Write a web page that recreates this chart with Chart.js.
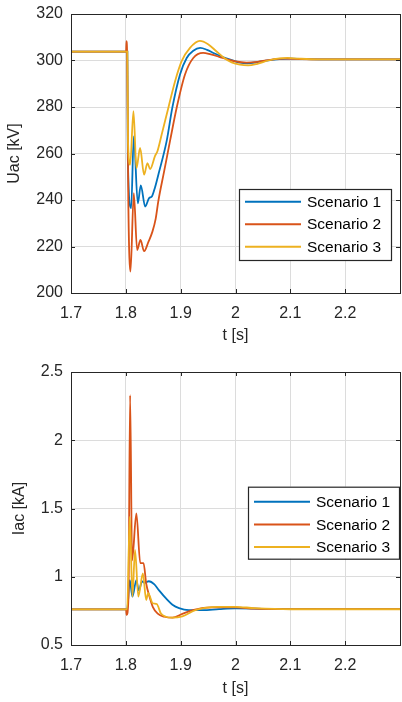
<!DOCTYPE html>
<html>
<head>
<meta charset="utf-8">
<script src="https://cdn.jsdelivr.net/npm/chart.js@4.4.1/dist/chart.umd.min.js"></script>
<style>
    body { margin: 0; background: #fff; }
    .plot { display: block; }
</style>
</head>
<body>
<canvas id="uacChart" class="plot" width="402" height="350"></canvas>
<canvas id="iacChart" class="plot" width="402" height="352"></canvas>
<script>
// --- data ---
const seriesNames = ['Scenario 1', 'Scenario 2', 'Scenario 3'];
const seriesColors = ['#0072BD', '#D95319', '#EDB120'];
const xTicks = [1.7, 1.8, 1.9, 2, 2.1, 2.2, 2.3];

// Uac [kV]
const tU1 = [1.7, 1.8028, 1.8036, 1.8097, 1.8145, 1.8218, 1.8273, 1.8352, 1.8424, 1.8475, 1.8533, 1.8594, 1.8745, 1.8848, 1.8988, 1.911, 1.923, 1.9355, 1.948, 1.962, 1.978, 1.993, 2.008, 2.022, 2.04, 2.06, 2.08, 2.1, 2.13, 2.17, 2.3];
const U1 = [303.8, 303.8, 258, 236.5, 267.4, 238.6, 246.3, 237.2, 240.8, 241.5, 245.5, 251, 265.4, 279.7, 294, 301.1, 304.2, 305.4, 304.6, 303, 301.4, 300.2, 299.1, 298.8, 299.3, 300.1, 300.6, 300.8, 300.6, 300.5, 300.5];
const tU2 = [1.7, 1.8005, 1.8012, 1.8025, 1.8045, 1.8085, 1.8145, 1.8206, 1.8267, 1.8333, 1.8412, 1.8485, 1.8545, 1.8594, 1.87, 1.8806, 1.8927, 1.9079, 1.923, 1.941, 1.955, 1.97, 1.985, 2.0, 2.02, 2.04, 2.06, 2.09, 2.12, 2.16, 2.3];
const U2 = [303.8, 303.8, 308.3, 300, 240, 209.2, 243, 218.5, 222.8, 218, 222, 226.4, 232, 239.7, 252.5, 265.4, 279.7, 294, 301.1, 303.3, 302.6, 301.6, 300.5, 299.6, 299.1, 299.4, 300.2, 300.8, 300.6, 300.5, 300.5];
const tU3 = [1.7, 1.8028, 1.804, 1.8079, 1.8139, 1.8194, 1.826, 1.8333, 1.8394, 1.8442, 1.8533, 1.8576, 1.8655, 1.8776, 1.8897, 1.9018, 1.917, 1.935, 1.95, 1.965, 1.98, 1.993, 2.008, 2.023, 2.04, 2.06, 2.08, 2.095, 2.115, 2.15, 2.3];
const U3 = [303.8, 303.8, 265, 255.2, 278.2, 253.7, 262.4, 250.9, 255.9, 253.3, 259, 261, 268.3, 279.7, 291, 299.7, 305.4, 308.4, 307, 304, 301, 299.2, 298.2, 297.9, 298.6, 300, 300.9, 301.1, 300.8, 300.5, 300.5];
const uTicks = [200, 220, 240, 260, 280, 300, 320];

// Iac [kA]
const tI1 = [1.7, 1.8024, 1.8072, 1.812, 1.8192, 1.8234, 1.8299, 1.8341, 1.8419, 1.8521, 1.8606, 1.8758, 1.885, 1.897, 1.915, 1.94, 1.97, 2.0, 2.06, 2.3];
const I1 = [0.761, 0.761, 0.976, 0.854, 0.976, 0.90, 0.966, 0.955, 0.967, 0.944, 0.90, 0.83, 0.795, 0.77, 0.756, 0.756, 0.763, 0.768, 0.765, 0.763];
const tI2 = [1.7, 1.8005, 1.8014, 1.8048, 1.8078, 1.8114, 1.8192, 1.8263, 1.8323, 1.8371, 1.8431, 1.8491, 1.8581, 1.8701, 1.885, 1.903, 1.924, 1.957, 1.999, 2.035, 2.1, 2.3];
const I2 = [0.761, 0.761, 0.72, 0.85, 2.33, 1.12, 1.465, 1.10, 1.10, 0.952, 0.855, 0.78, 0.73, 0.707, 0.70, 0.728, 0.758, 0.775, 0.775, 0.766, 0.763, 0.763];
const tI3 = [1.7, 1.8024, 1.8072, 1.812, 1.8168, 1.8228, 1.8311, 1.8371, 1.8407, 1.8491, 1.8563, 1.8641, 1.8731, 1.885, 1.903, 1.927, 1.969, 1.999, 2.035, 2.1, 2.3];
const I3 = [0.761, 0.761, 1.44, 0.854, 1.196, 0.854, 1.025, 0.83, 0.88, 0.806, 0.80, 0.73, 0.707, 0.70, 0.71, 0.756, 0.78, 0.78, 0.77, 0.762, 0.762];
const iTicks = [0.5, 1, 1.5, 2, 2.5];

const FONT = "'Liberation Sans', Arial, Helvetica, sans-serif";
const AXIS_COLOR = '#262626';

function pts(ts, vs) {
    return ts.map((t, i) => ({ x: t, y: vs[i] }));
}

function fmt(v) {
    return String(Number(v.toFixed(3)));
}

// box around the axes with inward ticks on all four sides (MATLAB style)
const frameBox = {
    id: 'frameBox',
    afterDatasetsDraw(chart) {
        const { ctx, chartArea: a, scales } = chart;
        const len = 4;
        ctx.save();
        ctx.strokeStyle = AXIS_COLOR;
        ctx.lineWidth = 1;
        ctx.beginPath();
        scales.x.ticks.forEach(tk => {
            const px = Math.round(scales.x.getPixelForValue(tk.value)) + 0.5;
            ctx.moveTo(px, a.bottom); ctx.lineTo(px, a.bottom - len);
            ctx.moveTo(px, a.top); ctx.lineTo(px, a.top + len);
        });
        scales.y.ticks.forEach(tk => {
            const py = Math.round(scales.y.getPixelForValue(tk.value)) + 0.5;
            ctx.moveTo(a.left, py); ctx.lineTo(a.left + len, py);
            ctx.moveTo(a.right, py); ctx.lineTo(a.right - len, py);
        });
        ctx.stroke();
        ctx.strokeRect(Math.round(a.left) + 0.5, Math.round(a.top) + 0.5,
            Math.round(a.right - a.left), Math.round(a.bottom - a.top));
        ctx.restore();
    }
};

// legend box placed inside the axes
const boxLegend = {
    id: 'boxLegend',
    afterDraw(chart, args, opts) {
        const ctx = chart.ctx;
        ctx.save();
        ctx.fillStyle = '#fff';
        ctx.fillRect(opts.left, opts.top, opts.width, opts.height);
        ctx.strokeStyle = AXIS_COLOR;
        ctx.lineWidth = 1.2;
        ctx.strokeRect(opts.left + 0.5, opts.top + 0.5, opts.width, opts.height);
        ctx.font = '15.5px ' + FONT;
        ctx.textBaseline = 'middle';
        seriesNames.forEach((name, i) => {
            const y = opts.firstRow + i * opts.rowGap;
            ctx.strokeStyle = seriesColors[i];
            ctx.lineWidth = 2;
            ctx.beginPath();
            ctx.moveTo(opts.left + 6, y);
            ctx.lineTo(opts.left + 6 + opts.lineLen, y);
            ctx.stroke();
            ctx.fillStyle = '#000';
            ctx.fillText(name, opts.left + 12 + opts.lineLen, y + 1);
        });
        ctx.restore();
    }
};

function noPad(s) {
    s.paddingLeft = 0;
    s.paddingRight = 0;
    s.paddingTop = 0;
    s.paddingBottom = 0;
}

function makeChart(canvasId, series, yMin, yMax, yTicks, yTitle, layout, legendPos) {
    const datasets = series.map((d, i) => ({
        label: seriesNames[i],
        data: d,
        borderColor: seriesColors[i],
        borderWidth: 1.8,
        pointRadius: 0,
        cubicInterpolationMode: 'monotone',
        order: 3 - i
    }));

    return new Chart(document.getElementById(canvasId), {
        type: 'line',
        data: { datasets },
        options: {
            responsive: false,
            animation: false,
            layout: { padding: { left: 0, right: 2, top: layout.top, bottom: 0 } },
            plugins: {
                legend: { display: false },
                tooltip: { enabled: false },
                boxLegend: legendPos
            },
            scales: {
                x: {
                    type: 'linear',
                    min: 1.7,
                    max: 2.3,
                    afterBuildTicks: s => { s.ticks = xTicks.map(v => ({ value: v })); },
                    afterFit: s => { s.height = layout.xHeight; noPad(s); },
                    grid: { color: '#dcdcdc', drawTicks: false },
                    border: { display: false },
                    ticks: {
                        color: AXIS_COLOR,
                        font: { family: FONT, size: 16 },
                        padding: 11,
                        maxRotation: 0,
                        autoSkip: false,
                        callback: v => (Math.abs(v - 2.3) < 1e-6 ? '' : fmt(v))
                    },
                    title: {
                        display: true,
                        text: 't [s]',
                        color: AXIS_COLOR,
                        font: { family: FONT, size: 16 },
                        padding: { top: 0, bottom: layout.xTitlePad }
                    }
                },
                y: {
                    min: yMin,
                    max: yMax,
                    afterBuildTicks: s => { s.ticks = yTicks.map(v => ({ value: v })); },
                    afterFit: s => { s.width = 71; noPad(s); },
                    grid: { color: '#dcdcdc', drawTicks: false },
                    border: { display: false },
                    ticks: {
                        color: AXIS_COLOR,
                        font: { family: FONT, size: 16 },
                        padding: 8,
                        autoSkip: false,
                        callback: v => fmt(v)
                    },
                    title: {
                        display: true,
                        text: yTitle,
                        color: AXIS_COLOR,
                        font: { family: FONT, size: 16 },
                        padding: { top: layout.yTitlePad, bottom: 0 }
                    }
                }
            }
        },
        plugins: [frameBox, boxLegend]
    });
}

makeChart('uacChart',
    [pts(tU1, U1), pts(tU2, U2), pts(tU3, U3)],
    200, 320, uTicks, 'Uac [kV]',
    { top: 14, xHeight: 57, xTitlePad: 5, yTitlePad: 5 },
    { left: 239, top: 189, width: 152, height: 71, firstRow: 201.7, rowGap: 22.5, lineLen: 56 });

makeChart('iacChart',
    [pts(tI1, I1), pts(tI2, I2), pts(tI3, I3)],
    0.5, 2.5, iTicks, 'Iac [kA]',
    { top: 22, xHeight: 57, xTitlePad: 4, yTitlePad: 10 },
    { left: 248, top: 136.7, width: 151, height: 72, firstRow: 151.7, rowGap: 22.7, lineLen: 56 });
</script>
</body>
</html>
